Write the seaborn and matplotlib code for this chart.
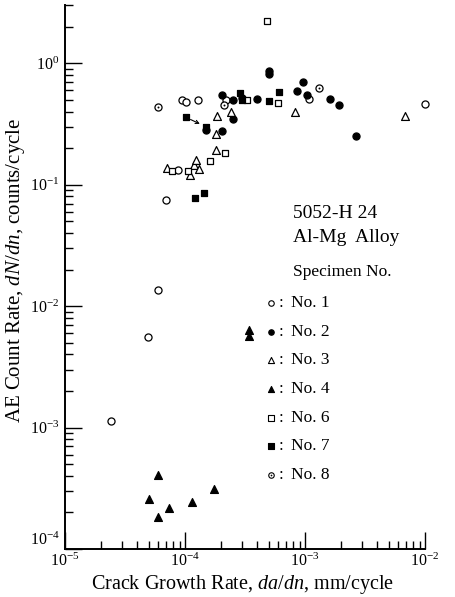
import numpy as np
import pandas as pd
import matplotlib
matplotlib.use("Agg")
import matplotlib.pyplot as plt
import seaborn as sns
from matplotlib.ticker import LogLocator, NullFormatter, FixedLocator, FixedFormatter

# ---------------- data ----------------
specimens = ["No. 1", "No. 2", "No. 3", "No. 4", "No. 6", "No. 7", "No. 8"]

no1_x = [2.44e-5, 4.9e-5, 5.97e-5, 6.9e-5, 8.8e-5, 9.5e-5, 1.01e-4, 1.29e-4, 2.2e-4, 1.09e-3, 1.0e-2]
no1_y = [1.14e-3, 5.6e-3, 1.37e-2, 0.075, 0.133, 0.50, 0.48, 0.50, 0.50, 0.51, 0.46]

no2_x = [1.5e-4, 2.05e-4, 2.05e-4, 2.5e-4, 2.5e-4, 3.0e-4, 4.0e-4, 5.05e-4, 5.05e-4,
         8.6e-4, 9.6e-4, 1.03e-3, 1.62e-3, 1.92e-3, 2.66e-3]
no2_y = [0.28, 0.275, 0.55, 0.50, 0.35, 0.52, 0.51, 0.86, 0.81,
         0.59, 0.70, 0.55, 0.51, 0.45, 0.25]

no3_x = [7.1e-5, 1.11e-4, 1.19e-4, 1.23e-4, 1.32e-4, 1.8e-4, 1.8e-4, 1.84e-4, 2.4e-4, 8.2e-4, 6.8e-3]
no3_y = [0.138, 0.12, 0.145, 0.159, 0.135, 0.192, 0.26, 0.37, 0.40, 0.40, 0.37]

no4_x = [4.99e-5, 5.97e-5, 5.93e-5, 7.3e-5, 1.14e-4, 1.73e-4, 3.44e-4, 3.4e-4]
no4_y = [2.57e-4, 4.07e-4, 1.85e-4, 2.19e-4, 2.43e-4, 3.1e-4, 6.4e-3, 5.7e-3]

no6_x = [7.85e-5, 1.05e-4, 1.63e-4, 2.15e-4, 3.3e-4, 5.9e-4, 4.84e-4]
no6_y = [0.13, 0.13, 0.156, 0.184, 0.50, 0.47, 2.23]

no7_x = [1.01e-4, 1.5e-4, 1.2e-4, 1.45e-4, 2.85e-4, 3.0e-4, 5.0e-4, 6.1e-4]
no7_y = [0.36, 0.30, 0.077, 0.086, 0.57, 0.50, 0.49, 0.58]

no8_x = [5.9e-5, 2.1e-4, 1.32e-3]
no8_y = [0.44, 0.45, 0.63]

x_ticks = [1e-5, 1e-4, 1e-3, 1e-2]
x_tick_labels = [r"$10^{-5}$", r"$10^{-4}$", r"$10^{-3}$", r"$10^{-2}$"]
y_ticks = [1e-4, 1e-3, 1e-2, 1e-1, 1e0]
y_tick_labels = [r"$10^{-4}$", r"$10^{-3}$", r"$10^{-2}$", r"$10^{-1}$", r"$10^{0}$"]

xs = [no1_x, no2_x, no3_x, no4_x, no6_x, no7_x, no8_x]
ys = [no1_y, no2_y, no3_y, no4_y, no6_y, no7_y, no8_y]
df = pd.concat([pd.DataFrame({"x": x, "y": y, "spec": s}) for x, y, s in zip(xs, ys, specimens)],
               ignore_index=True)

# marker styles: (marker, facecolor, size, centre-dot)
styles = {
    "No. 1": ("o", "white", 26, False),
    "No. 2": ("o", "black", 26, False),
    "No. 3": ("^", "white", 32, False),
    "No. 4": ("^", "black", 32, False),
    "No. 6": ("s", "white", 22, False),
    "No. 7": ("s", "black", 22, False),
    "No. 8": ("o", "white", 26, True),
}

# ---------------- figure ----------------
sns.set_theme(style="white")
plt.rcParams["font.family"] = ["Liberation Serif", "DejaVu Serif"]
plt.rcParams["mathtext.fontset"] = "custom"
plt.rcParams["mathtext.rm"] = "Liberation Serif"
plt.rcParams["mathtext.it"] = "Liberation Serif:italic"
plt.rcParams["mathtext.bf"] = "Liberation Serif:bold"

W, H = 456, 597
fig = plt.figure(figsize=(W / 100, H / 100), dpi=100)
fig.patch.set_facecolor("white")
ax = fig.add_axes([65 / W, 1 - 549 / H, (425 - 65) / W, (549 - 5) / H])
ax.set_facecolor("white")

for spec in specimens:
    m, fc, s, dot = styles[spec]
    sub = df[df["spec"] == spec]
    sns.scatterplot(data=sub, x="x", y="y", ax=ax, marker=m, s=s,
                    facecolor=fc, edgecolor="black", linewidth=0.9,
                    legend=False, clip_on=False, zorder=3)
    if dot:
        sns.scatterplot(data=sub, x="x", y="y", ax=ax, marker="o", s=2,
                        color="black", linewidth=0, legend=False,
                        clip_on=False, zorder=4)

# arrow between two No.7 points
ax.annotate("", xy=(no7_x[1], no7_y[1]), xytext=(no7_x[0], no7_y[0]),
            arrowprops=dict(arrowstyle="->", color="black", lw=0.8,
                            shrinkA=4, shrinkB=5, mutation_scale=6))

ax.set_xscale("log")
ax.set_yscale("log")
ax.set_xlim(1e-5, 1e-2)
ax.set_ylim(1e-4, 3.02)

ax.xaxis.set_major_locator(FixedLocator(x_ticks))
ax.xaxis.set_major_formatter(FixedFormatter(x_tick_labels))
ax.yaxis.set_major_locator(FixedLocator(y_ticks))
ax.yaxis.set_major_formatter(FixedFormatter(y_tick_labels))
ax.xaxis.set_minor_locator(LogLocator(base=10, subs=np.arange(2, 10), numticks=20))
ax.yaxis.set_minor_locator(LogLocator(base=10, subs=np.arange(2, 10), numticks=20))
ax.xaxis.set_minor_formatter(NullFormatter())
ax.yaxis.set_minor_formatter(NullFormatter())

for side in ["top", "right"]:
    ax.spines[side].set_visible(False)
for side in ["left", "bottom"]:
    ax.spines[side].set_color("black")
    ax.spines[side].set_linewidth(1.4)

ax.tick_params(which="both", direction="in", color="black", width=1.0,
               left=True, bottom=True, top=False, right=False)
ax.tick_params(which="major", length=12, labelsize=11.5, labelcolor="black")
ax.tick_params(axis="x", which="major", pad=3)
ax.tick_params(axis="y", which="major", pad=4)
ax.tick_params(which="minor", length=6)

# lowest y label sits just above the corner, as in the reference
ax.yaxis.get_major_ticks()[0].label1.set_verticalalignment("bottom")

ax.set_xlabel("")
ax.set_ylabel("")
fig.text(243 / W, 1 - 584 / H, r"Crack Growth Rate, $\mathit{da/dn}$, mm/cycle",
         ha="center", va="center", fontsize=14.5, color="black")
fig.text(16 / W, 1 - 270 / H, r"AE Count Rate, $\mathit{dN/dn}$, counts/cycle",
         ha="center", va="center", rotation=90, fontsize=15, color="black")

# annotation block
fig.text(293 / W, 1 - 213 / H, "5052-H 24", ha="left", va="center", fontsize=14, color="black")
fig.text(293 / W, 1 - 238 / H, "Al-Mg  Alloy", ha="left", va="center", fontsize=14, color="black")
fig.text(293 / W, 1 - 272 / H, "Specimen No.", ha="left", va="center", fontsize=12.5, color="black")

row0, step = 303, 28.65
for i, spec in enumerate(specimens):
    m, fc, s, dot = styles[spec]
    yy = 1 - (row0 + i * step) / H
    ax.scatter([271 / W], [yy], transform=fig.transFigure, marker=m, s=s * 0.6,
               facecolor=fc, edgecolor="black", linewidth=0.8, clip_on=False, zorder=5)
    if dot:
        ax.scatter([271 / W], [yy], transform=fig.transFigure, marker="o", s=1.5,
                   color="black", linewidth=0, clip_on=False, zorder=6)
    fig.text(279 / W, yy, ":", ha="left", va="center", fontsize=12.5, color="black")
    fig.text(291 / W, yy, spec, ha="left", va="center", fontsize=12.5, color="black")

fig.savefig("out.png", dpi=100, facecolor="white")
